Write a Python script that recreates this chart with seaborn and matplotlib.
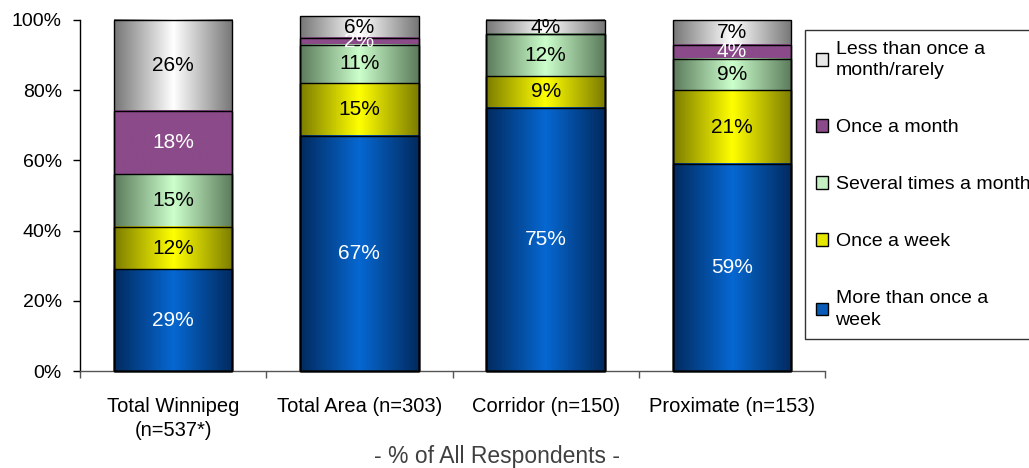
import numpy as np
import matplotlib
matplotlib.use("Agg")
import matplotlib.pyplot as plt
import seaborn as sns
from matplotlib.colors import to_rgb
from matplotlib.patches import Rectangle

# Survey groups and stacked response shares (%)
categories = ["Total Winnipeg\n(n=537*)", "Total Area (n=303)",
              "Corridor (n=150)", "Proximate (n=153)"]
series_labels = ["More than once a\nweek", "Once a week", "Several times a month",
                 "Once a month", "Less than once a\nmonth/rarely"]
more_than_weekly = [29, 67, 75, 59]
once_a_week = [12, 15, 9, 21]
several_a_month = [15, 11, 12, 9]
once_a_month = [18, 2, 0, 4]
less_or_rarely = [26, 6, 4, 7]
y_ticks = [0, 20, 40, 60, 80, 100]
y_tick_labels = ["0%", "20%", "40%", "60%", "80%", "100%"]
axis_caption = "- % of All Respondents -"

# (edge colour, centre colour) of each horizontal gradient fill
fills = [("#022a5e", "#0668d2"),
         ("#7c7c00", "#ffff00"),
         ("#5b7a5b", "#ccffcc"),
         ("#8b4a89", "#8b4a89"),
         ("#767676", "#ffffff")]
legend_colors = ["#0a5bb8", "#e6e600", "#c4f0c4", "#8b4a89", "#e8e8e8"]
label_colors = ["white", "black", "black", "white", "black"]

sns.set_theme(style="white")
plt.rcParams["font.family"] = ["Liberation Sans", "DejaVu Sans"]
plt.rcParams["text.color"] = "black"

fig = plt.figure(figsize=(10.29, 4.68), dpi=100)
ax = fig.add_axes([80 / 1029, 1 - 371 / 468, 745 / 1029, 351 / 468])

values = np.array([more_than_weekly, once_a_week, several_a_month,
                   once_a_month, less_or_rarely], dtype=float)
cum = np.cumsum(values, axis=0)


def gradient(edge, centre, n=256):
    e, c = np.array(to_rgb(edge)), np.array(to_rgb(centre))
    t = 1 - np.abs(np.linspace(-1, 1, n))
    return (e[None, :] + (c - e)[None, :] * t[:, None])[None, :, :]


# Overlapping cumulative bars, tallest first, give the stacked outline
for i in reversed(range(len(values))):
    start = len(ax.patches)
    sns.barplot(x=categories, y=cum[i], order=categories, ax=ax, width=0.635,
                color="white", edgecolor="black", linewidth=1.0, zorder=2)
    bars = ax.patches[start:]
    for j, bar in enumerate(bars):
        bar.set_facecolor("none")
        bar.set_zorder(3)
        bar.set_clip_on(False)
        top = cum[i][j]
        bottom = cum[i - 1][j] if i > 0 else 0.0
        if top - bottom <= 0:
            continue
        x0 = bar.get_x()
        x1 = x0 + bar.get_width()
        ax.imshow(gradient(*fills[i]), extent=(x0, x1, bottom, top),
                  aspect="auto", interpolation="bilinear", zorder=1,
                  clip_on=False)
        ax.text(x0 + bar.get_width() / 2, (bottom + top) / 2,
                f"{int(values[i][j])}%", ha="center", va="center",
                color=label_colors[i], fontsize=15, zorder=4)

ax.set_xlim(-0.5, len(categories) - 0.5)
ax.set_ylim(0, 100)
ax.set_yticks(y_ticks)
ax.set_yticklabels(y_tick_labels, fontsize=14, color="black")
ax.set_xticks(range(len(categories)))
ax.set_xticklabels(categories, fontsize=14.5, color="black", linespacing=1.3)
ax.set_xticks(np.arange(len(categories) + 1) - 0.5, minor=True)
ax.tick_params(axis="x", which="major", length=0, pad=19)
ax.tick_params(axis="x", which="minor", length=5, width=1, color="#555555",
               direction="out", bottom=True)
ax.tick_params(axis="y", which="major", length=5, width=1, color="black",
               direction="out", left=True, pad=8)
ax.set_xlabel("")
ax.set_ylabel("")
for side in ("top", "right"):
    ax.spines[side].set_visible(False)
ax.spines["left"].set_color("black")
ax.spines["left"].set_linewidth(1.0)
ax.spines["bottom"].set_color("#555555")
ax.spines["bottom"].set_linewidth(1.0)
ax.set_facecolor("white")

# Legend, top-of-stack first
handles = [Rectangle((0, 0), 1, 1, facecolor=legend_colors[i],
                     edgecolor="black", linewidth=1.0)
           for i in reversed(range(len(values)))]
labels = [series_labels[i] for i in reversed(range(len(values)))]
leg = fig.legend(handles, labels, loc="upper left",
                 bbox_to_anchor=(805 / 1029, 1 - 30 / 468), frameon=True,
                 fancybox=False, edgecolor="black", fontsize=14,
                 labelcolor="black",
                 handlelength=0.62, handleheight=0.62, handletextpad=0.4,
                 labelspacing=2.05, borderpad=0.55, borderaxespad=0.0)
leg.get_frame().set_linewidth(1.0)
for t in leg.get_texts():
    t.set_linespacing(1.35)

fig.text(497 / 1029, 1 - 456 / 468, axis_caption, ha="center", va="center",
         fontsize=16.5, color="#404040")

fig.savefig("out.png", dpi=100, facecolor="white")
